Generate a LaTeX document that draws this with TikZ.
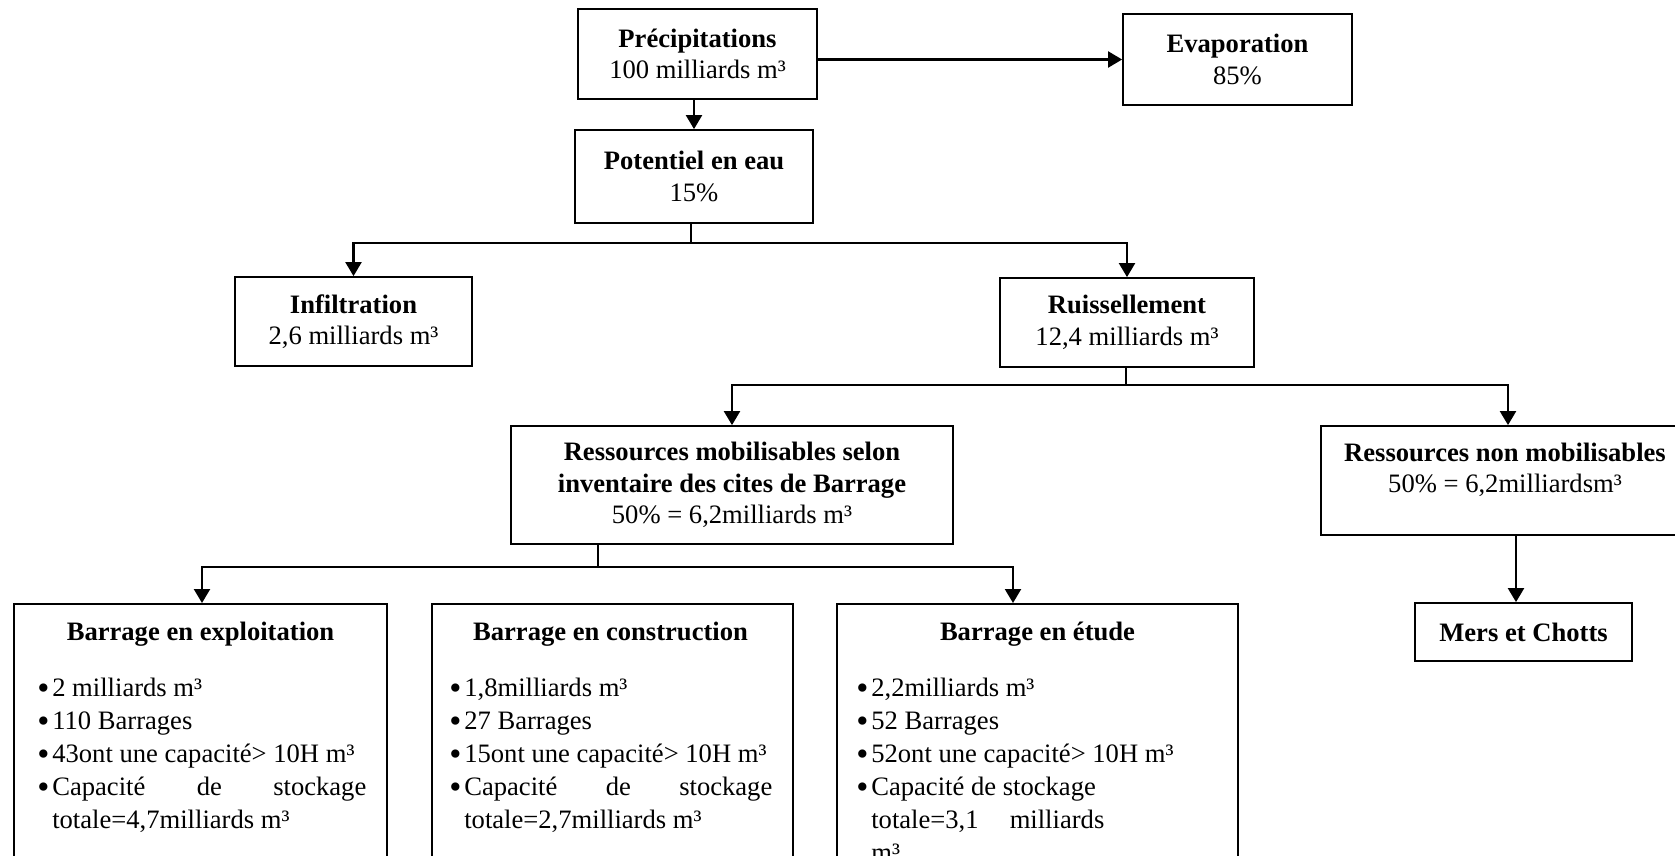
\documentclass[tikz,border=0pt]{standalone}
\usepackage{fontspec}
\setmainfont{Liberation Serif}
\usetikzlibrary{arrows.meta,calc}
\newcommand{\myitem}[1]{\par\noindent\hangindent=15pt\hangafter=1\makebox[15pt][l]{\raisebox{-3pt}{\scalebox{1.3}{\textbullet}}}#1}
\tikzset{
  box/.style={draw, line width=1.8pt, rectangle, inner sep=0pt, align=center,
    font=\fontsize{26.6pt}{31.5pt}\selectfont},
  txt/.style={inner sep=0pt, font=\fontsize{26.6pt}{33pt}\selectfont},
  ttl/.style={inner sep=0pt, anchor=base, font=\fontsize{26.6pt}{33pt}\selectfont\bfseries},
  arr/.style={line width=2.2pt, -{Triangle[width=16pt,length=14pt]}},
  stub/.style={line width=1.2pt},
}
\begin{document}
\begin{tikzpicture}[x=1pt,y=-1pt]
\path[use as bounding box] (0,0) rectangle (1675,855);
\clip (0,0) rectangle (1675,855);

% top boxes
\node[box, minimum width=239pt, minimum height=90pt] (P) at (697.5,54)
  {\textbf{Précipitations}\\100 milliards m³};
\node[box, minimum width=229pt, minimum height=91pt] (E) at (1237.5,59.5)
  {\textbf{Evaporation}\\85\%};
\node[box, minimum width=238pt, minimum height=93pt] (Pot) at (694,176.5)
  {\textbf{Potentiel en eau}\\15\%};
\node[box, minimum width=237pt, minimum height=89pt] (Inf) at (353.5,321.5)
  {\textbf{Infiltration}\\2,6 milliards m³};
\node[box, minimum width=254pt, minimum height=89pt] (Ru) at (1127,322.5)
  {\textbf{Ruissellement}\\12,4 milliards m³};
\node[box, minimum width=442pt, minimum height=118pt] (RM) at (732,485)
  {\textbf{Ressources mobilisables selon}\\\textbf{inventaire des cites de Barrage}\\50\% = 6,2milliards m³};
\node[box, minimum width=368pt, minimum height=109pt] (NM) at (1505,480.5) {};
\node[txt, align=center, font=\fontsize{26.6pt}{31.5pt}\selectfont] (NMt) at ($(NM.center)+(0,-10.5)$)
  {\textbf{Ressources non mobilisables}\\50\% = 6,2milliardsm³};
\node[box, minimum width=217pt, minimum height=58pt,
  font=\fontsize{26.6pt}{31.5pt}\selectfont\bfseries] (MC) at (1523.5,632) {Mers et Chotts};

% bottom boxes
\node[box, minimum width=373pt, minimum height=300pt, anchor=north] (B1) at (200.5,603) {};
\node[box, minimum width=361pt, minimum height=300pt, anchor=north] (B2) at (612.5,603) {};
\node[box, minimum width=401pt, minimum height=300pt, anchor=north] (B3) at (1037.5,603) {};

\node[ttl] (B1t) at ($(B1.north)+(0,37)$) {Barrage en exploitation};
\node[ttl] (B2t) at ($(B2.north)+(-2,37)$) {Barrage en construction};
\node[ttl] (B3t) at ($(B3.north)+(0,37)$) {Barrage en étude};

\node[txt, anchor=base west] (B1l) at ($(B1.north west)+(24,93)$)
  {\parbox[t]{345pt}{\raggedright
   \myitem{2 milliards m³}
   \myitem{110 Barrages}
   \myitem{43ont une capacité> 10H m³}
   \myitem{\hbox to 314pt{Capacité\hfill de\hfill stockage}\newline totale=4,7milliards m³}}};
\node[txt, anchor=base west] (B2l) at ($(B2.north west)+(18,93)$)
  {\parbox[t]{340pt}{\raggedright
   \myitem{1,8milliards m³}
   \myitem{27 Barrages}
   \myitem{15ont une capacité> 10H m³}
   \myitem{\hbox to 308pt{Capacité\hfill de\hfill stockage}\newline totale=2,7milliards m³}}};
\node[txt, anchor=base west] (B3l) at ($(B3.north west)+(20,93)$)
  {\parbox[t]{370pt}{\raggedright
   \myitem{2,2milliards m³}
   \myitem{52 Barrages}
   \myitem{52ont une capacité> 10H m³}
   \myitem{Capacité de stockage\newline\hbox to 233pt{totale=3,1\hfill milliards}\newline m³}}};

% connectors
\draw[arr] (P.east |- E.west) -- (E.west);
\draw[arr] (P.south -| Pot.north) -- (Pot.north);

\coordinate (j1) at (691,243);
\draw[stub] (j1 |- Pot.south) -- (j1);
\draw[arr] (j1) -| (Inf.north);
\draw[arr] (j1) -| (Ru.north);

\coordinate (j2) at (1126,385);
\draw[stub] (j2 |- Ru.south) -- (j2);
\draw[arr] (j2) -| (RM.north);
\draw[arr] (j2) -| ([xshift=3pt]NM.north);

\coordinate (j3) at (598,567);
\draw[stub] (j3 |- RM.south) -- (j3);
\draw[arr] (j3) -| ([xshift=1.5pt]B1.north);
\draw[arr] (j3) -| ([xshift=-24.5pt]B3.north);

\draw[arr] ([xshift=11pt]NM.south) -- ([xshift=-7.5pt]MC.north);
\end{tikzpicture}
\end{document}
